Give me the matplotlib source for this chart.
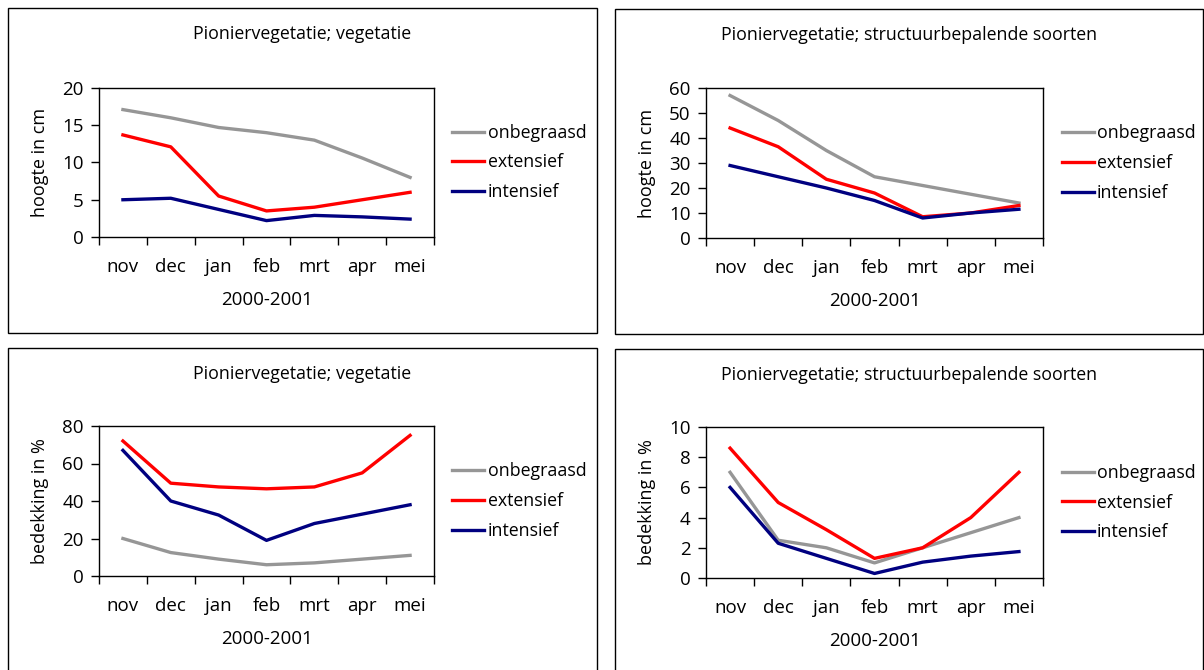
import matplotlib
matplotlib.use("Agg")
import matplotlib.pyplot as plt
from matplotlib.patches import Rectangle

plt.rcParams['font.family'] = ['Open Sans', 'DejaVu Sans']

months = ['nov', 'dec', 'jan', 'feb', 'mrt', 'apr', 'mei']
series_names = ['onbegraasd', 'extensief', 'intensief']
colors = ['#969696', '#ff0000', '#000080']

# hoogte, vegetatie
hoogte_veg_onb = [17.1, 16.0, 14.7, 14.0, 13.0, 10.6, 8.0]
hoogte_veg_ext = [13.7, 12.1, 5.5, 3.5, 4.0, 5.0, 6.0]
hoogte_veg_int = [5.0, 5.2, 3.7, 2.2, 2.9, 2.7, 2.4]

# hoogte, structuurbepalende soorten
hoogte_str_onb = [57, 47, 35, 24.5, 21, 17.5, 14]
hoogte_str_ext = [44, 36.5, 23.5, 18, 8.5, 10, 13]
hoogte_str_int = [29, 24.5, 20, 15, 8, 10, 11.5]

# bedekking, vegetatie
bedek_veg_onb = [20, 12.5, 9, 6, 7, 9, 11]
bedek_veg_ext = [72, 49.5, 47.5, 46.5, 47.5, 55, 75]
bedek_veg_int = [67, 40, 32.5, 19, 28, 33, 38]

# bedekking, structuurbepalende soorten
bedek_str_onb = [7, 2.5, 2, 1, 2, 3, 4]
bedek_str_ext = [8.6, 5, 3.2, 1.3, 2, 4, 7]
bedek_str_int = [6, 2.3, 1.3, 0.3, 1.05, 1.45, 1.75]

W, H = 1204, 670
fig = plt.figure(figsize=(W / 100, H / 100), dpi=100)

panels = [
    # axes box (px), frame box (px), title, ylabel, ymax, ystep, data
    ((99, 88, 434, 237), (8, 8, 597, 333), 'Pioniervegetatie; vegetatie',
     'hoogte in cm', 20, 5, (hoogte_veg_onb, hoogte_veg_ext, hoogte_veg_int)),
    ((706, 88, 1043, 238), (615, 9, 1203, 334), 'Pioniervegetatie; structuurbepalende soorten',
     'hoogte in cm', 60, 10, (hoogte_str_onb, hoogte_str_ext, hoogte_str_int)),
    ((99, 426, 434, 576), (8, 348, 597, 690), 'Pioniervegetatie; vegetatie',
     'bedekking in %', 80, 20, (bedek_veg_onb, bedek_veg_ext, bedek_veg_int)),
    ((706, 427, 1043, 578), (615, 349, 1203, 690), 'Pioniervegetatie; structuurbepalende soorten',
     'bedekking in %', 10, 2, (bedek_str_onb, bedek_str_ext, bedek_str_int)),
]

for (ax_box, frame, title, ylabel, ymax, ystep, data) in panels:
    x0, y0, x1, y1 = frame
    fig.patches.append(Rectangle((x0 / W, 1 - y1 / H), (x1 - x0) / W, (y1 - y0) / H,
                                 transform=fig.transFigure, fill=False,
                                 edgecolor='black', linewidth=1.0))
    fig.text((x0 + x1) / 2 / W, 1 - (y0 + 26) / H, title, ha='center', va='center',
             fontsize=12.8)

    l, t, r, b = ax_box
    ax = fig.add_axes([l / W, 1 - b / H, (r - l) / W, (b - t) / H])
    xs = [i + 0.5 for i in range(len(months))]
    for vals, name, c in zip(data, series_names, colors):
        ax.plot(xs, vals, color=c, lw=2.4, label=name, solid_joinstyle='round')

    ax.set_xlim(0, len(months))
    ax.set_ylim(0, ymax)
    ax.set_yticks(range(0, ymax + 1, ystep))
    # category boundaries get the tick marks, centres get the month names
    ax.set_xticks(range(len(months) + 1))
    ax.set_xticklabels([])
    ax.set_xticks(xs, minor=True)
    ax.set_xticklabels(months, minor=True)
    ax.tick_params(axis='x', which='minor', length=0, pad=15, labelsize=13.5)
    ax.tick_params(axis='x', which='major', length=6, width=1)
    ax.tick_params(axis='y', length=6, width=1, pad=5, labelsize=13.5)
    for s in ax.spines.values():
        s.set_linewidth(1.0)

    ax.set_ylabel(ylabel, fontsize=13)
    ax.yaxis.set_label_coords(-50 / (r - l), 0.5)
    ax.text(0.5, -63 / (b - t), '2000-2001', transform=ax.transAxes,
            ha='center', va='center', fontsize=13.5)

    ax.legend(loc='center left', bbox_to_anchor=(1.055, 0.5), frameon=False,
              fontsize=12.8, handlelength=1.8, handletextpad=0.2, labelspacing=0.66,
              borderaxespad=0, borderpad=0)

fig.savefig('out.png', dpi=100)
